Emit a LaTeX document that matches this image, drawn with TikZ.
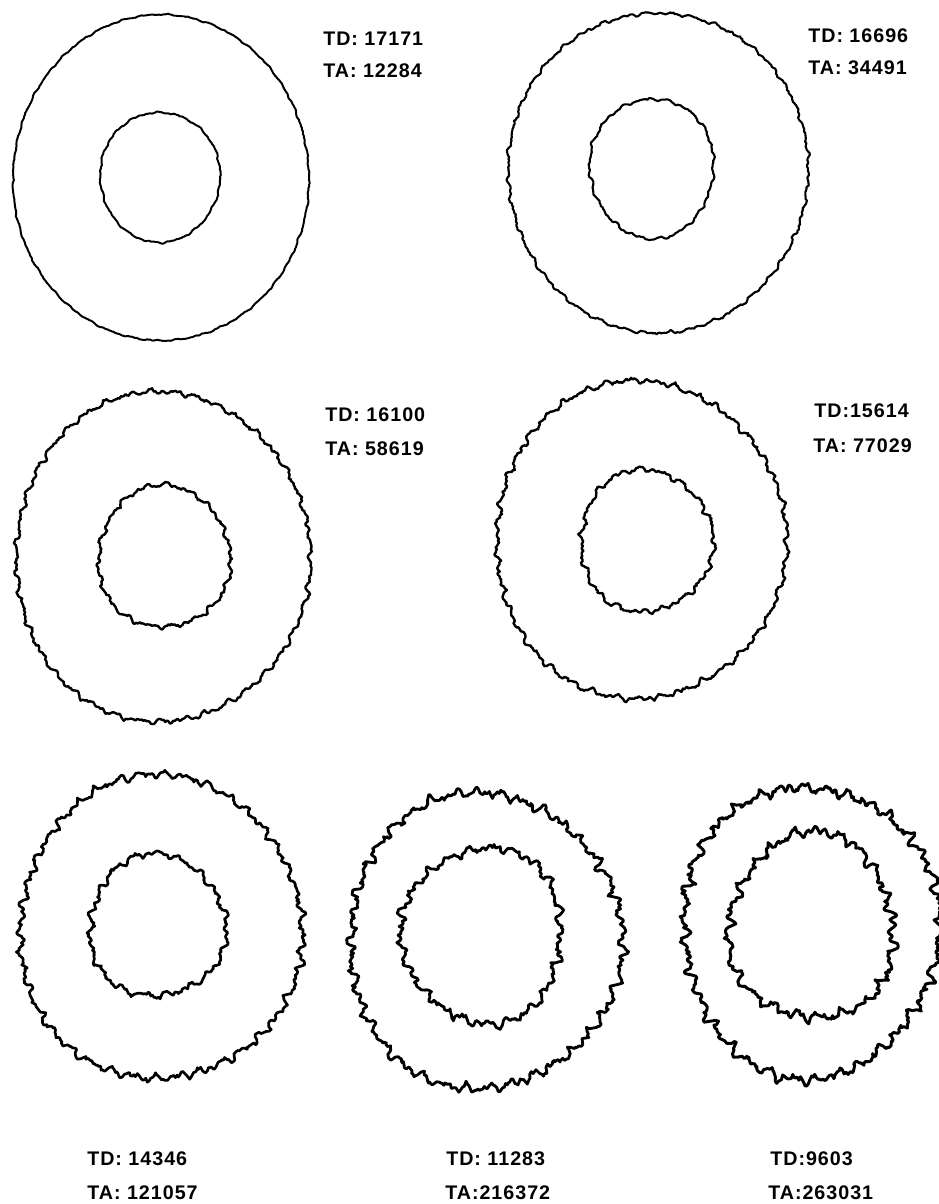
\documentclass[tikz,border=0pt]{standalone}
\usepackage{fontspec}
\newfontfamily\tagfont{Liberation Sans}[LetterSpace=5]

\begin{document}
\begin{tikzpicture}[
  x=0.025cm, y=-0.025cm,
  ring/.style={line width=#1, line join=round, line cap=round},
  ring/.default=1.4pt,
  tag/.style={anchor=base west, inner sep=0pt,
              font=\tagfont\bfseries\fontsize{14}{16}\selectfont},
]
  \useasboundingbox (0,0) rectangle (939,1204);
  \pgfmathsetseed{1971}

  % centre x / centre y / radius x / radius y / roughness / width
  \foreach \cx/\cy/\rx/\ry/\jit/\lw in {
      161/178/148/163/0.8/1.4pt, 160/177/60/65/0.9/1.4pt,
      658/172/150/160/1.7/1.5pt, 652/168/62/70/1.6/1.5pt,
      162/557/147/165/2.8/1.7pt, 164/557/66/71/2.6/1.7pt,
      640/540/145/159/3.2/1.7pt, 646/541/66/71/3.0/1.7pt,
      160/928/141/152/4.2/1.9pt, 157/926/68/71/3.8/1.9pt,
      484/941/136/148/5.2/2.0pt, 483/935/80/88/4.8/2.0pt,
      810/931/128/146/5.8/2.1pt, 812/927/82/93/5.6/2.1pt}
  {
    \pgfmathsetmacro\pa{6.2832*rnd}
    \pgfmathsetmacro\pb{6.2832*rnd}
    \pgfmathsetmacro\pc{6.2832*rnd}
    \pgfmathsetmacro\pd{6.2832*rnd}
    \pgfmathtruncatemacro\ka{\rx/3.6}
    \pgfmathtruncatemacro\kb{\rx/2.3}
    \pgfmathtruncatemacro\kc{\rx/1.5}
    \pgfmathtruncatemacro\n{\rx*4}
    \pgfmathsetmacro\tend{6.2832-6.2832/\n}
    \draw[ring=\lw] plot[samples=\n, domain=0:\tend, variable=\t]
      ({\cx+(\rx+\jit*(0.5*sin(mod(\ka*\t+\pa,6.283185) r)+0.35*sin(mod(\kb*\t+\pb,6.283185) r)
              +0.25*sin(mod(\kc*\t+\pc,6.283185) r)+0.6*sin(mod(3*\t+\pd,6.283185) r)+0.4*rand))*cos(\t r)},
       {\cy+(\ry+\jit*(0.5*sin(mod(\ka*\t+\pa,6.283185) r)+0.35*sin(mod(\kb*\t+\pb,6.283185) r)
              +0.25*sin(mod(\kc*\t+\pc,6.283185) r)+0.6*sin(mod(3*\t+\pd,6.283185) r)+0.4*rand))*sin(\t r)}) -- cycle;
  }

  \node[tag] (td1) at (323,45) {TD: 17171};
  \node[tag] (ta1) at (323,77) {TA: 12284};
  \node[tag] (td2) at (808,42) {TD: 16696};
  \node[tag] (ta2) at (808,74) {TA: 34491};
  \node[tag] (td3) at (325,421) {TD: 16100};
  \node[tag] (ta3) at (325,455) {TA: 58619};
  \node[tag] (td4) at (814,417) {TD:15614};
  \node[tag] (ta4) at (813,452) {TA: 77029};
  \node[tag] (td5) at (87,1165) {TD: 14346};
  \node[tag] (ta5) at (87,1199) {TA: 121057};
  \node[tag] (td6) at (446,1165) {TD: 11283};
  \node[tag] (ta6) at (445,1199) {TA:216372};
  \node[tag] (td7) at (770,1165) {TD:9603};
  \node[tag] (ta7) at (768,1199) {TA:263031};
\end{tikzpicture}
\end{document}
